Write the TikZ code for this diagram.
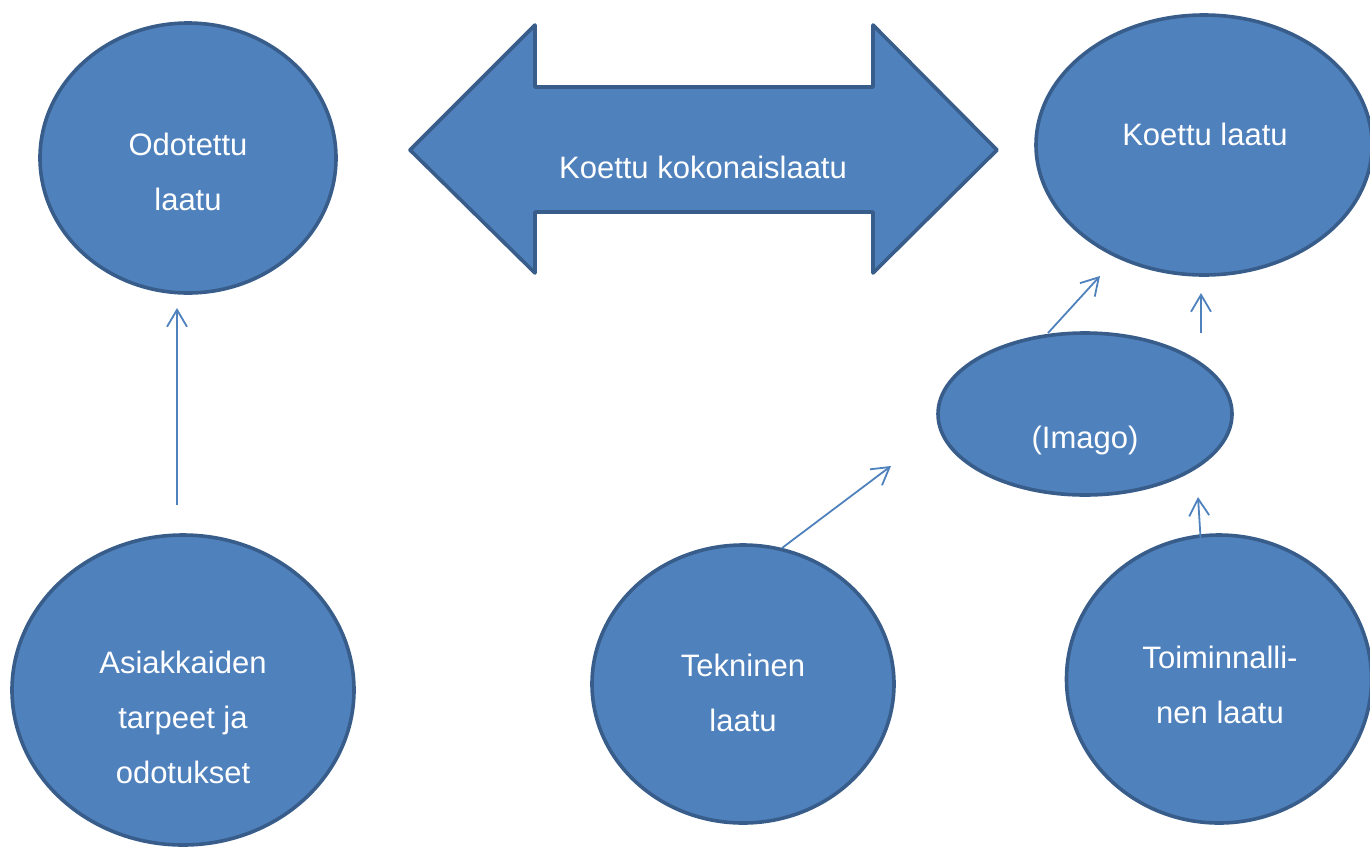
\documentclass[tikz,border=0pt]{standalone}
\usepackage{fontspec}
\setmainfont{Liberation Sans}
\usetikzlibrary{shapes.geometric,arrows.meta}
\definecolor{fillblue}{HTML}{4F81BD}
\definecolor{edgeblue}{HTML}{385D8A}
\begin{document}
\begin{tikzpicture}[x=1pt,y=-1pt,
  bubble/.style={ellipse,draw=edgeblue,fill=fillblue,line width=3.6pt,inner sep=0pt},
  txt/.style={text=white,font=\fontsize{31}{55}\selectfont,align=center,inner sep=0pt},
  conn/.style={draw=fillblue,line width=1.8pt,-{Straight Barb[length=17pt,width=20pt]}}]
\useasboundingbox (0,0) rectangle (1370,847);
\clip (0,0) rectangle (1370,847);
% ellipses
\node[bubble,minimum width=296pt,minimum height=270pt] (odo) at (188,158) {};
\node[txt] (odoT) at (188,172) {Odotettu\\laatu};
\node[bubble,minimum width=336pt,minimum height=260pt] (koe) at (1204,145) {};
\node[txt] (koeT) at (1205,134) {Koettu laatu};
\node[bubble,minimum width=294pt,minimum height=162pt] (ima) at (1085,414) {};
\node[txt] (imaT) at (1085,440) {(Imago)};
\node[bubble,minimum width=342pt,minimum height=310pt] (asi) at (183,690) {};
\node[txt] (asiT) at (183,717) {Asiakkaiden\\tarpeet ja\\odotukset};
\node[bubble,minimum width=302pt,minimum height=278pt] (tek) at (743,684) {};
\node[txt] (tekT) at (743,693) {Tekninen\\laatu};
\node[bubble,minimum width=305pt,minimum height=288pt] (toi) at (1219,679) {};
\node[txt] (toiT) at (1220,685) {Toiminnalli-\\nen laatu};
% double arrow
\draw[edgeblue,fill=fillblue,line width=3.6pt,line join=round]
  (410,150) -- (535,25) -- (535,87) -- (873,87) -- (873,25) -- (997,150)
  -- (873,273) -- (873,212) -- (535,212) -- (535,273) -- cycle;
\node[txt] (kok) at (703,167) {Koettu kokonaislaatu};
% connector end points
\coordinate (a1s) at (177,505);
\coordinate (a1e) at (177,308);
\coordinate (a2s) at (1048,333);
\coordinate (a2e) at (1100,276);
\coordinate (a3s) at (1201,333);
\coordinate (a3e) at (1201,293);
\coordinate (a4s) at (782,548);
\coordinate (a4e) at (891,466);
\coordinate (a5s) at (1202,561);
\coordinate (a5e) at (1198,497);
\draw[conn] (a1s) -- (a1e);
\draw[conn] (a2s) -- (a2e);
\draw[conn] (a3s) -- (a3e);
\draw[conn] (a4s) -- (a4e);
\draw[conn] (a5s) -- (a5e);
\end{tikzpicture}
\end{document}
